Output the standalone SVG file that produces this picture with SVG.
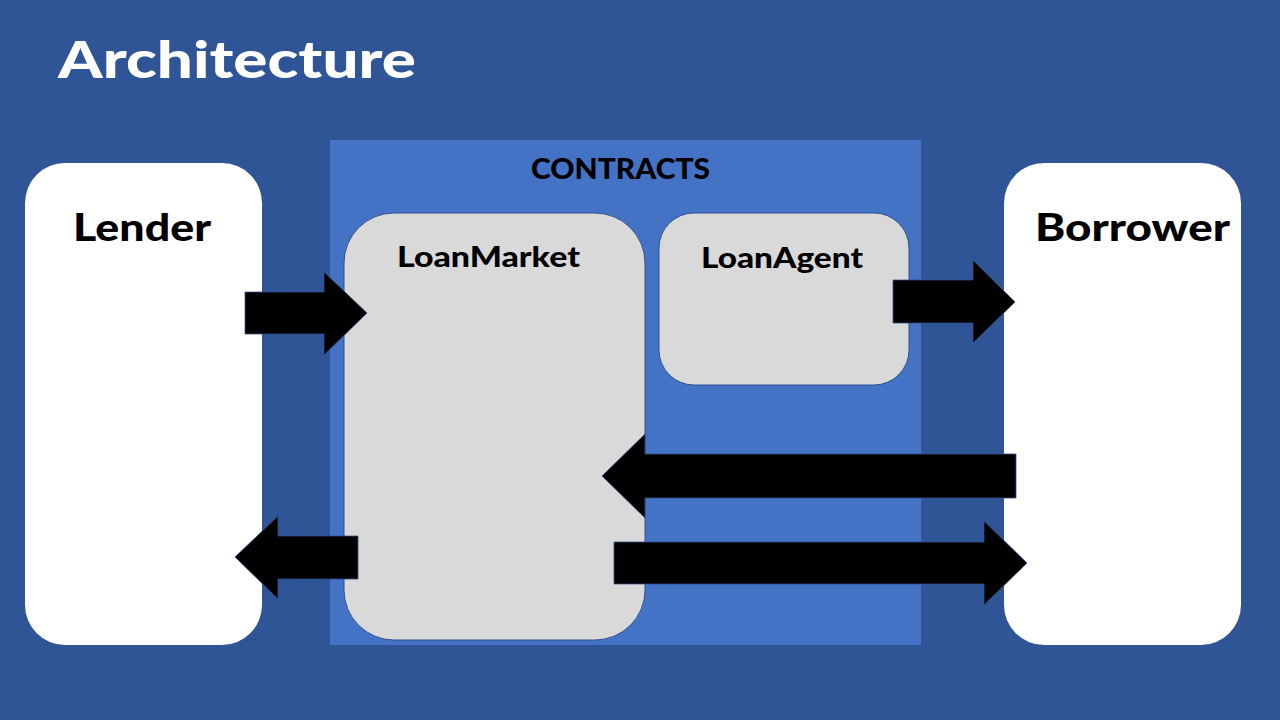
<svg xmlns="http://www.w3.org/2000/svg" width="1280" height="720" viewBox="0 0 1280 720">
<style>
.t{font-family:"Lato","DejaVu Sans",sans-serif;font-weight:900;}
.party{fill:#FFFFFF;}
.contract{fill:#D9D9D9;stroke:#2F528F;stroke-width:1;}
.arrow{fill:#000000;stroke:#2F528F;stroke-width:0.75;}
</style>
<rect x="0" y="0" width="1280" height="720" fill="#2F5597"/>
<text class="t" x="58" y="78" font-size="52" fill="#FFFFFF" textLength="358" lengthAdjust="spacingAndGlyphs">Architecture</text>
<g id="contracts">
<rect x="330" y="140" width="591" height="505" fill="#4472C4"/>
<text class="t" x="620.5" y="179" font-size="28" text-anchor="middle" fill="#000000" textLength="179" lengthAdjust="spacingAndGlyphs">CONTRACTS</text>
</g>
<g id="lender">
<rect class="party" x="25" y="163" width="237" height="482" rx="40" ry="40"/>
<text class="t" x="142" y="241" font-size="37" text-anchor="middle" fill="#000000" textLength="138" lengthAdjust="spacingAndGlyphs">Lender</text>
</g>
<g id="borrower">
<rect class="party" x="1004" y="163" width="237" height="482" rx="40" ry="40"/>
<text class="t" x="1132.5" y="241" font-size="37" text-anchor="middle" fill="#000000" textLength="195" lengthAdjust="spacingAndGlyphs">Borrower</text>
</g>
<g id="loanmarket">
<rect class="contract" x="344" y="213" width="301" height="427" rx="50" ry="50"/>
<text class="t" x="488.5" y="267" font-size="29" text-anchor="middle" fill="#000000" textLength="183" lengthAdjust="spacingAndGlyphs">LoanMarket</text>
</g>
<g id="loanagent">
<rect class="contract" x="659" y="213" width="250" height="172" rx="35" ry="35"/>
<text class="t" x="782" y="268" font-size="29" text-anchor="middle" fill="#000000" textLength="162" lengthAdjust="spacingAndGlyphs">LoanAgent</text>
</g>
<g id="connectors">
<polygon class="arrow" points="245,292 324,292 324,272 367,313 324,355 324,334 245,334"/>
<polygon class="arrow" points="893,280 973,280 973,260 1015,302 973,343 973,323 893,323"/>
<polygon class="arrow" points="1016,454 645,454 645,434 602,476 645,518 645,498 1016,498"/>
<polygon class="arrow" points="614,542 984,542 984,521 1027,563 984,605 984,584 614,584"/>
<polygon class="arrow" points="358,536 278,536 278,516 235,557 278,599 278,579 358,579"/>
</g>
</svg>
